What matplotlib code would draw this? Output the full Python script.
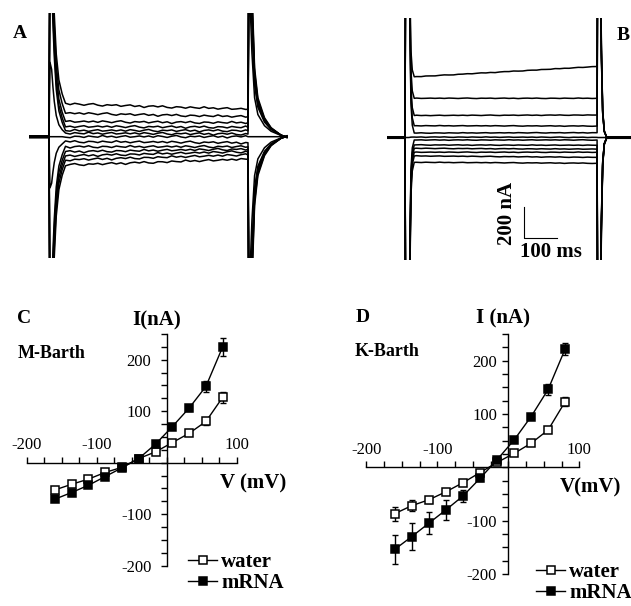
import numpy as np
import matplotlib.pyplot as plt
from matplotlib.ticker import FixedLocator

plt.rcParams['font.family'] = ['Liberation Serif', 'DejaVu Serif']

W, H = 631, 606

#----------------------------#
# Dati: curve corrente-tensione
#----------------------------#

voltage = [-160, -136, -112, -88, -64, -40, -16, 8, 32, 56, 80]

c_water = [-53, -42, -32, -19, -9, 8, 21, 39, 57, 80, 127]
c_water_err = [3, 3, 3, 3, 3, 3, 3, 3, 4, 7, 11]
c_mrna = [-71, -58, -44, -27, -10, 8, 36, 70, 106, 148, 225]
c_mrna_err = [3, 3, 3, 3, 3, 3, 3, 4, 6, 10, 17]

d_water = [-87, -72, -61, -46, -29, -10, 9, 26, 45, 70, 123]
d_water_err = [13, 10, 6, 4, 4, 3, 3, 3, 3, 4, 8]
d_mrna = [-154, -130, -105, -80, -54, -21, 14, 51, 95, 146, 222]
d_mrna_err = [27, 25, 21, 19, 12, 4, 3, 3, 4, 11, 12]

x_ticks = [-200, -100, 100]
x_tick_labels = ['-200', '-100', '100']
y_ticks = [-200, -100, 100, 200]
y_tick_labels = ['-200', '-100', '100', '200']

#----------------------------#
# Dati: tracce di corrente (nA, ms)
#----------------------------#

# livello stazionario a inizio e fine gradino
a_level_start = [211, 151, 97, 65, 39, 22, 0, -32, -65, -97, -124, -150, -183]
a_level_end = [177, 129, 90, 61, 39, 17, 0, -39, -65, -81, -97, -118, -146]
a_peak_on = [1500, 1400, 1300, 1200, 1100, 480, 0, -330, -1100, -1200, -1300, -1400, -1500]
a_peak_off = [1600, 1500, 1400, 1300, 1200, 900, 0, -900, -1200, -1300, -1400, -1500, -1600]
a_hold = [-6, -5, -4, -3, -2, -1, 0, 1, 2, 3, 4, 5, 6]

b_level_start = [392, 253, 142, 76, 29, 3, -16, -48, -70, -95, -119, -160]
b_level_end = [458, 253, 145, 74, 31, 1, -16, -50, -75, -95, -128, -166]
b_peak_on = [1500, 1450, 1400, 1350, 1300, 0, -1300, -1350, -1400, -1450, -1500, -1550]
b_peak_off = [1500, 1450, 1400, 1350, 1300, 0, -1300, -1350, -1400, -1450, -1500, -1550]
b_hold = [-5, -4, -3, -2, -1, 0, 0, 1, 2, 3, 4, 5]

# forma dei transitori capacitivi (frazione residua)
a_on_dt = [3, 8, 12, 16, 22, 30, 40]
a_on_frac = [1, 0.9, 0.65, 0.45, 0.25, 0.12, 0.05]
a_off_dt = [3, 8, 12, 20, 30, 50, 70, 100, 118]
a_off_frac = [1, 0.85, 0.6, 0.28, 0.16, 0.08, 0.04, 0.01, 0.0]

b_on_dt = [2, 12, 15, 18, 22, 28]
b_on_frac = [1, 0.95, 0.5, 0.15, 0.04, 0.0]
b_off_dt = [2, 10, 13, 17, 22, 30]
b_off_frac = [1, 0.9, 0.4, 0.12, 0.03, 0.0]

# rumore letto a occhio sulle tracce (nA)
ripple = [3, -2, 4, 1, -3, 2, 5, -1, -4, 2, 0, 3, -3, 1, 4, -2, 2, -5, 1, 3,
          -1, 4, -2, -4, 2, 1, -3, 3, 0, -2, 5, -1, 2, -3, 1, 4, -2, 0, 3, -1]

a_step = (-58, 603, 721)   # inizio, fine gradino, fine traccia
b_step = (-52, 582, 700)

scalebar_origin = (360, -650)
scalebar_len = (100, 200)


def fig_rect(left, top, right, bottom):
    return [left / W, 1 - bottom / H, (right - left) / W, (bottom - top) / H]


def build_trace(step, hold, lv0, lv1, p_on, p_off, on_dt, on_frac, off_dt, off_frac, r_t, r_v):
    t_pre, t_off, t_end = step
    t = [t_pre, 0]
    v = [hold, hold]
    for dt, f in zip(on_dt, on_frac):
        t.append(dt)
        v.append(lv0 + (p_on - lv0) * f)
    span = t_off - r_t[0]
    for tr, r in zip(r_t, r_v):
        t.append(tr)
        v.append(lv0 + (lv1 - lv0) * (tr - r_t[0]) / span + r)
    t.append(t_off)
    v.append(lv1)
    for dt, f in zip(off_dt, off_frac):
        t.append(t_off + dt)
        v.append(hold + (p_off - hold) * f)
    t.append(t_end)
    v.append(hold)
    return t, v


fig = plt.figure(figsize=(W / 100, H / 100), dpi=100)

#----------------------------#
# Pannello A
#----------------------------#

axA = fig.add_axes(fig_rect(25, 13, 315, 258))
axA.set_xlim(-72.7, 806.1)
axA.set_ylim(-782.6, 798.1)
axA.axis('off')
rt_a = 50 + 14 * np.arange(len(ripple))
for i in range(len(a_level_start)):
    rv = np.roll(ripple, 3 * i) * 1.6
    t, v = build_trace(a_step, a_hold[i], a_level_start[i], a_level_end[i], a_peak_on[i], a_peak_off[i],
                       a_on_dt, a_on_frac, a_off_dt, a_off_frac, rt_a, rv)
    axA.plot(t, v, color='black', lw=1.1)

#----------------------------#
# Pannello B
#----------------------------#

axB = fig.add_axes(fig_rect(380, 18, 631, 260))
axB.set_xlim(-75.8, 684.8)
axB.set_ylim(-790, 771)
axB.axis('off')
rt_b = 35 + 14 * np.arange(len(ripple) - 1)
for i in range(len(b_level_start)):
    rv = np.roll(ripple, 5 * i)[:len(rt_b)] * 0.4
    t, v = build_trace(b_step, b_hold[i], b_level_start[i], b_level_end[i], b_peak_on[i], b_peak_off[i],
                       b_on_dt, b_on_frac, b_off_dt, b_off_frac, rt_b, rv)
    axB.plot(t, v, color='black', lw=1.1)

# barra di scala
sx, sy = scalebar_origin
axB.plot([sx, sx, sx + scalebar_len[0]], [sy + scalebar_len[1], sy, sy], color='black', lw=0.8)

fig.text(507 / W, 1 - 213 / H, '200 nA', rotation=90, ha='center', va='center', fontsize=15, fontweight='bold')
fig.text(551 / W, 1 - 252 / H, '100 ms', ha='center', va='center', fontsize=15, fontweight='bold')
fig.text(19.5 / W, 1 - 34 / H, 'A', ha='center', va='center', fontsize=14, fontweight='bold')
fig.text(630 / W, 1 - 35 / H, 'B', ha='right', va='center', fontsize=14, fontweight='bold')

#----------------------------#
# Pannelli C e D
#----------------------------#


def iv_axes(rect, ylab_pad):
    ax = fig.add_axes(rect)
    ax.set_xlim(-210, 105)
    ax.set_ylim(-215, 260)
    ax.patch.set_visible(False)
    ax.spines['right'].set_visible(False)
    ax.spines['bottom'].set_visible(False)
    ax.spines['top'].set_position(('data', 0))
    ax.spines['left'].set_position(('data', 0))
    ax.spines['top'].set_bounds(-200, 100)
    ax.spines['left'].set_bounds(-200, 250)
    for s in ['top', 'left']:
        ax.spines[s].set_linewidth(1.0)
    ax.xaxis.set_ticks_position('top')
    ax.yaxis.set_ticks_position('left')
    ax.set_xticks(x_ticks)
    ax.set_xticklabels(x_tick_labels)
    ax.set_yticks(y_ticks)
    ax.set_yticklabels(y_tick_labels)
    ax.xaxis.set_minor_locator(FixedLocator(np.arange(-200, 101, 25)))
    ax.yaxis.set_minor_locator(FixedLocator(np.arange(-200, 251, 25)))
    ax.tick_params(which='both', direction='out', length=4, width=1.0)
    ax.tick_params(axis='x', labelsize=12, pad=3)
    ax.tick_params(axis='y', labelsize=12, pad=ylab_pad)
    return ax


def iv_plot(ax, water, water_err, mrna, mrna_err, legend_xy):
    ax.errorbar(voltage, water, yerr=water_err, fmt='none', ecolor='black', elinewidth=1, capsize=2.5, capthick=1)
    ax.errorbar(voltage, mrna, yerr=mrna_err, fmt='none', ecolor='black', elinewidth=1, capsize=2.5, capthick=1)
    lw_, = ax.plot(voltage, water, '-s', color='black', mfc='white', mec='black', ms=5.5, mew=1.1, lw=1, label='water')
    lm_, = ax.plot(voltage, mrna, '-s', color='black', mfc='black', mec='black', ms=5.5, mew=1.1, lw=1, label='mRNA')
    ax.legend(handles=[lw_, lm_], loc='upper left', bbox_to_anchor=(legend_xy[0] / W, 1 - legend_xy[1] / H),
              bbox_transform=fig.transFigure, frameon=False, borderpad=0, borderaxespad=0,
              handlelength=1.4, handletextpad=0.2, labelspacing=0.05, numpoints=1,
              prop={'weight': 'bold', 'size': 15})


axC = iv_axes(fig_rect(19.7, 328.8, 240.2, 573.4), 7)
iv_plot(axC, c_water, c_water_err, c_mrna, c_mrna_err, (188, 552))

axD = iv_axes(fig_rect(359.2, 328.7, 582.9, 581.9), 4)
iv_plot(axD, d_water, d_water_err, d_mrna, d_mrna_err, (536, 562))

fig.text(24.5 / W, 1 - 318.5 / H, 'C', ha='center', va='center', fontsize=14, fontweight='bold')
fig.text(157 / W, 1 - 320 / H, 'I(nA)', ha='center', va='center', fontsize=15, fontweight='bold')
fig.text(18 / W, 1 - 353 / H, 'M-Barth', ha='left', va='center', fontsize=13, fontweight='bold')
fig.text(220 / W, 1 - 483 / H, 'V (mV)', ha='left', va='center', fontsize=15, fontweight='bold')

fig.text(362.5 / W, 1 - 317.5 / H, 'D', ha='center', va='center', fontsize=14, fontweight='bold')
fig.text(503 / W, 1 - 318 / H, 'I (nA)', ha='center', va='center', fontsize=15, fontweight='bold')
fig.text(355 / W, 1 - 351 / H, 'K-Barth', ha='left', va='center', fontsize=13, fontweight='bold')
fig.text(560 / W, 1 - 487 / H, 'V(mV)', ha='left', va='center', fontsize=15, fontweight='bold')

fig.savefig('out.png', dpi=100)
